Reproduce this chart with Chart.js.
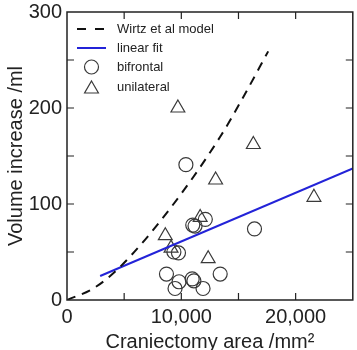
<!DOCTYPE html>
<html>
<head>
<meta charset="utf-8">
<script src="https://cdn.jsdelivr.net/npm/chart.js@4/dist/chart.umd.min.js"></script>
<style>
  html, body { margin: 0; padding: 0; background: #fff; overflow: hidden; }
  /* a few px wider than the window: chart.js keeps a small right margin we can't pad away */
  #wrap { width: 362px; height: 350px; }
</style>
</head>
<body>
<div id="wrap"><canvas id="c"></canvas></div>
<script>
// ── data ────────────────────────────────────────────────────────
const wirtzX = [0, 2300, 4600, 9000, 13400, 15400, 17600];
const wirtzY = [0, 12, 34, 95, 170, 211, 259];

const fitX = [2900, 25000];
const fitY = [25, 137];

const bifrontalX = [10400, 11000, 11200, 12100, 16400, 9350, 9750, 8700, 9800, 9450, 10950, 11100, 11900, 13400];
const bifrontalY = [141, 78, 77, 84, 74, 50, 49, 27, 19, 12, 22, 20, 12, 27];

const unilateralX = [9700, 16300, 13000, 21600, 11650, 8600, 9100, 12350];
const unilateralY = [200, 162, 125, 107, 86, 67, 54, 43];

const xTicksMajor = [0, 10000, 20000];
const yTicksMajor = [0, 100, 200, 300];

const FONT = "'Liberation Sans', Arial, sans-serif";
const INK = '#222';
const MARK = '#3a3a3a';
const BLUE = '#2323d8';

function pts(xs, ys) {
  return xs.map((x, i) => ({ x: x, y: ys[i] }));
}

// box around plot + inward ticks on all four sides
const frame = {
  id: 'frame',
  afterDatasetsDraw(chart) {
    const { ctx, chartArea: a, scales } = chart;
    ctx.save();
    ctx.strokeStyle = INK;
    ctx.lineWidth = 1.5;
    ctx.strokeRect(a.left, a.top, a.right - a.left, a.bottom - a.top);
    ctx.lineWidth = 1.2;
    ctx.beginPath();
    for (let v = 5000; v < 25000; v += 5000) {
      const px = scales.x.getPixelForValue(v);
      ctx.moveTo(px, a.bottom); ctx.lineTo(px, a.bottom - 7);
      ctx.moveTo(px, a.top); ctx.lineTo(px, a.top + 7);
    }
    for (let v = 50; v < 300; v += 50) {
      const py = scales.y.getPixelForValue(v);
      ctx.moveTo(a.left, py); ctx.lineTo(a.left + 7, py);
      ctx.moveTo(a.right, py); ctx.lineTo(a.right - 7, py);
    }
    ctx.stroke();
    ctx.restore();
  }
};

// legend sitting in the upper-left corner of the plot
const insideLegend = {
  id: 'insideLegend',
  afterDraw(chart) {
    const { ctx, chartArea: a } = chart;
    const x0 = a.left + 10, x1 = a.left + 39, tx = a.left + 50;
    const rows = [a.top + 17, a.top + 36, a.top + 55, a.top + 75];
    ctx.save();
    ctx.lineWidth = 2;
    ctx.strokeStyle = '#111';
    ctx.setLineDash([9, 9]);
    ctx.beginPath(); ctx.moveTo(x0, rows[0]); ctx.lineTo(x1, rows[0]); ctx.stroke();
    ctx.setLineDash([]);
    ctx.strokeStyle = BLUE;
    ctx.beginPath(); ctx.moveTo(x0, rows[1]); ctx.lineTo(x1, rows[1]); ctx.stroke();
    ctx.strokeStyle = MARK;
    ctx.lineWidth = 1.2;
    const cx = (x0 + x1) / 2;
    ctx.beginPath(); ctx.arc(cx, rows[2], 7, 0, Math.PI * 2); ctx.stroke();
    const r = 8, ty = rows[3] + 2;
    ctx.beginPath();
    ctx.moveTo(cx, ty - r);
    ctx.lineTo(cx + r * Math.sin(2 * Math.PI / 3), ty - r * Math.cos(2 * Math.PI / 3));
    ctx.lineTo(cx + r * Math.sin(4 * Math.PI / 3), ty - r * Math.cos(4 * Math.PI / 3));
    ctx.closePath(); ctx.stroke();
    ctx.fillStyle = INK;
    ctx.font = '13px ' + FONT;
    ctx.textBaseline = 'middle';
    ['Wirtz et al model', 'linear fit', 'bifrontal', 'unilateral']
      .forEach((t, i) => ctx.fillText(t, tx, rows[i]));
    ctx.restore();
  }
};

new Chart(document.getElementById('c'), {
  type: 'scatter',
  data: {
    datasets: [
      {
        label: 'Wirtz et al model',
        data: pts(wirtzX, wirtzY),
        showLine: true,
        borderColor: '#111',
        borderWidth: 2,
        borderDash: [9, 7],
        pointRadius: 0,
        cubicInterpolationMode: 'monotone'
      },
      {
        label: 'linear fit',
        data: pts(fitX, fitY),
        showLine: true,
        borderColor: BLUE,
        borderWidth: 2,
        pointRadius: 0
      },
      {
        label: 'bifrontal',
        data: pts(bifrontalX, bifrontalY),
        pointStyle: 'circle',
        pointRadius: 7,
        borderColor: MARK,
        borderWidth: 1.2,
        backgroundColor: 'rgba(0,0,0,0)'
      },
      {
        label: 'unilateral',
        data: pts(unilateralX, unilateralY),
        pointStyle: 'triangle',
        pointRadius: 8,
        borderColor: MARK,
        borderWidth: 1.2,
        backgroundColor: 'rgba(0,0,0,0)'
      }
    ]
  },
  options: {
    responsive: true,
    maintainAspectRatio: false,
    animation: false,
    layout: { padding: { left: 4, right: 4, top: 12, bottom: -2 } },
    plugins: { legend: { display: false }, tooltip: { enabled: false } },
    scales: {
      x: {
        type: 'linear',
        min: 0,
        max: 25000,
        grid: { display: false, drawTicks: false },
        border: { display: false },
        afterBuildTicks: s => { s.ticks = xTicksMajor.map(v => ({ value: v })); },
        afterFit: s => {
          s.height = 52;
          s.paddingLeft = 0; s.paddingRight = 0;
        },
        ticks: {
          autoSkip: false,
          padding: 5,
          maxRotation: 0,
          color: INK,
          font: { family: FONT, size: 20 },
          callback: v => v.toLocaleString('en-US')
        },
        title: {
          display: true,
          text: 'Craniectomy area /mm\u00B2',
          color: INK,
          font: { family: FONT, size: 20, lineHeight: 1.0 },
          padding: { top: 0, bottom: 0 }
        }
      },
      y: {
        min: 0,
        max: 300,
        grid: { display: false, drawTicks: false },
        border: { display: false },
        afterBuildTicks: s => { s.ticks = yTicksMajor.map(v => ({ value: v })); },
        afterFit: s => {
          s.width = 63;
          s.paddingTop = 0; s.paddingBottom = 0;
        },
        ticks: {
          autoSkip: false,
          padding: 5,
          color: INK,
          font: { family: FONT, size: 20 }
        },
        title: {
          display: true,
          text: 'Volume increase /ml',
          color: INK,
          font: { family: FONT, size: 20, lineHeight: 1.2 },
          padding: { top: 0, bottom: 0 }
        }
      }
    }
  },
  plugins: [frame, insideLegend]
});
</script>
</body>
</html>
